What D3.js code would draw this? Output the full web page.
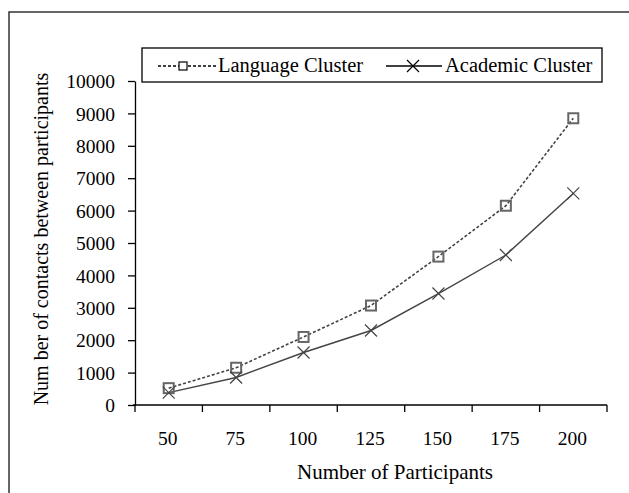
<!DOCTYPE html>
<html><head><meta charset="utf-8">
<script src="https://cdn.jsdelivr.net/npm/d3@7"></script>
<style>
html,body{margin:0;padding:0;background:#fff;}
svg{display:block;font-family:"Liberation Serif","Times New Roman",serif;}
</style></head>
<body><svg id="c" width="629" height="493"></svg>
<script>
const categories = [50, 75, 100, 125, 150, 175, 200];
const languageCluster = [520, 1150, 2100, 3070, 4580, 6150, 8850];
const academicCluster = [380, 850, 1620, 2300, 3440, 4630, 6530];
const yTicks = [0, 1000, 2000, 3000, 4000, 5000, 6000, 7000, 8000, 9000, 10000];
const seriesNames = ["Language Cluster", "Academic Cluster"];

const svg = d3.select("#c");
// outer frame
svg.append("rect").attr("x", 9).attr("y", 12).attr("width", 640).attr("height", 500)
  .attr("fill", "none").attr("stroke", "#333").attr("stroke-width", 1.5);

const x0 = 135, x1 = 607, yTop = 81, yBot = 405;
const x = d3.scaleBand().domain(categories).range([x0, x1]).padding(0);
const y = d3.scaleLinear().domain([0, 10000]).range([yBot, yTop]);
const cx = d => x(d) + x.bandwidth() / 2;

// y axis
const yAxis = d3.axisLeft(y).tickValues(yTicks).tickFormat(d3.format("d"))
  .tickSize(7).tickSizeOuter(0).tickPadding(13);
const gy = svg.append("g").attr("transform", `translate(${x0},0)`).call(yAxis);
gy.select(".domain").attr("stroke", "#000").attr("stroke-width", 1.3);
gy.selectAll(".tick line").attr("stroke", "#000").attr("stroke-width", 1.3);
gy.selectAll(".tick text").attr("font-size", 19.5).attr("fill", "#000")
  .attr("font-family", "Liberation Serif").attr("dy", "0.34em");

// x axis: ticks at band boundaries
const gx = svg.append("g").attr("transform", `translate(0,${yBot})`);
gx.append("line").attr("x1", x0 - 2).attr("x2", x1).attr("y1", 0).attr("y2", 0)
  .attr("stroke", "#000").attr("stroke-width", 1.3);
const bounds = categories.map(c => x(c)).concat([x1]);
gx.selectAll("line.tk").data(bounds).enter().append("line").attr("class", "tk")
  .attr("x1", d => d).attr("x2", d => d).attr("y1", 0).attr("y2", 7)
  .attr("stroke", "#000").attr("stroke-width", 1.3);
gx.selectAll("text").data(categories).enter().append("text")
  .attr("x", d => cx(d) - 1).attr("y", 40).attr("text-anchor", "middle")
  .attr("font-size", 19.5).attr("fill", "#000").text(d => d);

// axis titles
svg.append("text").attr("x", 395).attr("y", 479).attr("text-anchor", "middle")
  .attr("font-size", 21).attr("fill", "#000").text("Number of Participants");
svg.append("text").attr("transform", "translate(48,239) rotate(-90)").attr("text-anchor", "middle")
  .attr("font-size", 20).attr("fill", "#000").text("Num ber of contacts between participants");

// lines
const line = d3.line().x((d, i) => cx(categories[i])).y(d => y(d));
svg.append("path").datum(languageCluster).attr("d", line).attr("fill", "none")
  .attr("stroke", "#444").attr("stroke-width", 1.6).attr("stroke-dasharray", "3,2");
svg.append("path").datum(academicCluster).attr("d", line).attr("fill", "none")
  .attr("stroke", "#444").attr("stroke-width", 1.4);

function square(g, px, py) {
  g.append("rect").attr("x", px - 5).attr("y", py - 5).attr("width", 10).attr("height", 10)
    .attr("fill", "none").attr("stroke", "#666").attr("stroke-width", 2);
}
function cross(g, px, py) {
  const s = 6;
  g.append("path").attr("d", `M${px - s},${py - s}L${px + s},${py + s}M${px - s},${py + s}L${px + s},${py - s}`)
    .attr("stroke", "#444").attr("stroke-width", 1.2).attr("fill", "none");
}
const gm = svg.append("g");
languageCluster.forEach((v, i) => square(gm, cx(categories[i]), y(v)));
academicCluster.forEach((v, i) => cross(gm, cx(categories[i]), y(v)));

// legend
const lg = svg.append("g");
lg.append("rect").attr("x", 142).attr("y", 48).attr("width", 460).attr("height", 34)
  .attr("fill", "#fff").attr("stroke", "#000").attr("stroke-width", 1.3);
lg.append("line").attr("x1", 158).attr("x2", 216).attr("y1", 66).attr("y2", 66)
  .attr("stroke", "#000").attr("stroke-width", 1.3).attr("stroke-dasharray", "3,2");
lg.append("rect").attr("x", 179).attr("y", 62).attr("width", 8).attr("height", 8)
  .attr("fill", "#fff").attr("stroke", "#000").attr("stroke-width", 1.2);
lg.append("text").attr("x", 218).attr("y", 72).attr("font-size", 20.5).attr("fill", "#000").text(seriesNames[0]);
lg.append("line").attr("x1", 386).attr("x2", 442).attr("y1", 66).attr("y2", 66)
  .attr("stroke", "#000").attr("stroke-width", 1.3);
cross(lg, 413, 66);
lg.select("path").attr("stroke", "#000");
lg.append("text").attr("x", 445).attr("y", 72).attr("font-size", 20.5).attr("fill", "#000").text(seriesNames[1]);
</script></body></html>
